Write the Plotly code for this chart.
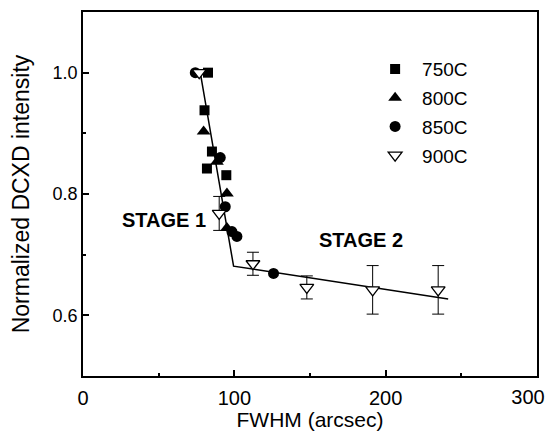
import plotly.graph_objects as go

# Data
x750 = [82.6, 80.3, 85.2, 81.9, 94.7]
y750 = [1.0, 0.938, 0.870, 0.842, 0.831]

x800 = [79.7, 88.5, 95.1, 95.1]
y800 = [0.903, 0.853, 0.801, 0.744]

x850 = [74.2, 90.7, 94.0, 98.4, 101.7, 125.9]
y850 = [1.0, 0.860, 0.779, 0.738, 0.730, 0.669]

x900 = [76.8, 90.0, 112.3, 147.9, 191.4, 234.7]
y900 = [1.0, 0.768, 0.685, 0.646, 0.642, 0.642]
e900 = [0.0, 0.028, 0.019, 0.019, 0.040, 0.040]

fit_x = [77.5, 99.5, 241.3]
fit_y = [1.0, 0.681, 0.627]

x_ticks = [0, 100, 200, 300]
y_ticks = [0.6, 0.8, 1.0]

FONT = "Liberation Sans, Arial, sans-serif"

fig = go.Figure()

fig.add_trace(go.Scatter(x=fit_x, y=fit_y, mode="lines",
                         line=dict(color="black", width=1.5),
                         showlegend=False, hoverinfo="skip"))

# error bars of the 900C series (drawn beneath its markers)
fig.add_trace(go.Scatter(x=x900, y=y900, mode="markers", showlegend=False,
                         marker=dict(size=1, opacity=0), hoverinfo="skip",
                         error_y=dict(type="data", array=e900, visible=True,
                                      color="black", thickness=1, width=6)))

fig.add_trace(go.Scatter(x=x750, y=y750, mode="markers", name="750C",
                         legendgroup="a",
                         marker=dict(symbol="square", size=10, color="black")))
fig.add_trace(go.Scatter(x=x800, y=y800, mode="markers", name="800C",
                         legendgroup="b",
                         marker=dict(symbol="triangle-up", size=12, color="black")))
fig.add_trace(go.Scatter(x=x850, y=y850, mode="markers", name="850C",
                         legendgroup="c",
                         marker=dict(symbol="circle", size=11, color="black")))
fig.add_trace(go.Scatter(x=x900, y=y900, mode="markers", name="900C",
                         legendgroup="d",
                         marker=dict(symbol="triangle-down", size=12, color="white",
                                     line=dict(color="black", width=1.3))))

# invisible trace on the overlay axis so the last x tick label is drawn
fig.add_trace(go.Scatter(x=[x_ticks[-1]], y=[y_ticks[0]], xaxis="x2",
                         mode="markers", marker=dict(opacity=0),
                         showlegend=False, hoverinfo="skip"))

fig.add_annotation(x=53.8, y=0.757, text="<b>STAGE 1</b>", showarrow=False,
                   font=dict(size=20, color="black", family=FONT))
fig.add_annotation(x=184.0, y=0.724, text="<b>STAGE 2</b>", showarrow=False,
                   font=dict(size=20, color="black", family=FONT))

fig.update_layout(
    width=539, height=423,
    margin=dict(l=74.5, r=9.5, t=4, b=55),
    paper_bgcolor="white", plot_bgcolor="white",
    font=dict(family=FONT, size=18, color="black"),
    legend=dict(x=0.628, y=0.895, xanchor="left", yanchor="top",
                bgcolor="rgba(0,0,0,0)", tracegroupgap=1, itemwidth=44,
                font=dict(size=19)),
    xaxis=dict(range=[0, 300], tickvals=x_ticks[:-1],
               ticks="inside", ticklen=6, tickwidth=1.5, tickcolor="black",
               tickfont=dict(size=20), ticklabelstandoff=3,
               minor=dict(tickvals=[50, 150, 250], ticks="inside", ticklen=3,
                          tickcolor="black"),
               showline=True, linecolor="black", linewidth=1.8, mirror=True,
               showgrid=False, zeroline=False, automargin=False,
               title=dict(text="FWHM (arcsec)", font=dict(size=21), standoff=4)),
    xaxis2=dict(range=[0, 300], overlaying="x", anchor="y", side="bottom",
                tickvals=x_ticks[-1:], ticks="", showline=False,
                tickfont=dict(size=20), ticklabelstandoff=7,
                ticklabelshift=-9, ticklabeloverflow="allow",
                showgrid=False, zeroline=False, automargin=False),
    yaxis=dict(range=[0.5, 1.1], tickvals=y_ticks, tickformat=".1f",
               ticks="inside", ticklen=6, tickwidth=1.5, tickcolor="black",
               tickfont=dict(size=18), ticklabeloverflow="allow",
               minor=dict(tickvals=[0.7, 0.9], ticks="inside", ticklen=3,
                          tickcolor="black"),
               showline=True, linecolor="black", linewidth=1.8, mirror=True,
               showgrid=False, zeroline=False, automargin=False,
               title=dict(text="Normalized DCXD intensity", font=dict(size=23),
                          standoff=20)),
)

fig.write_html("out.html")
